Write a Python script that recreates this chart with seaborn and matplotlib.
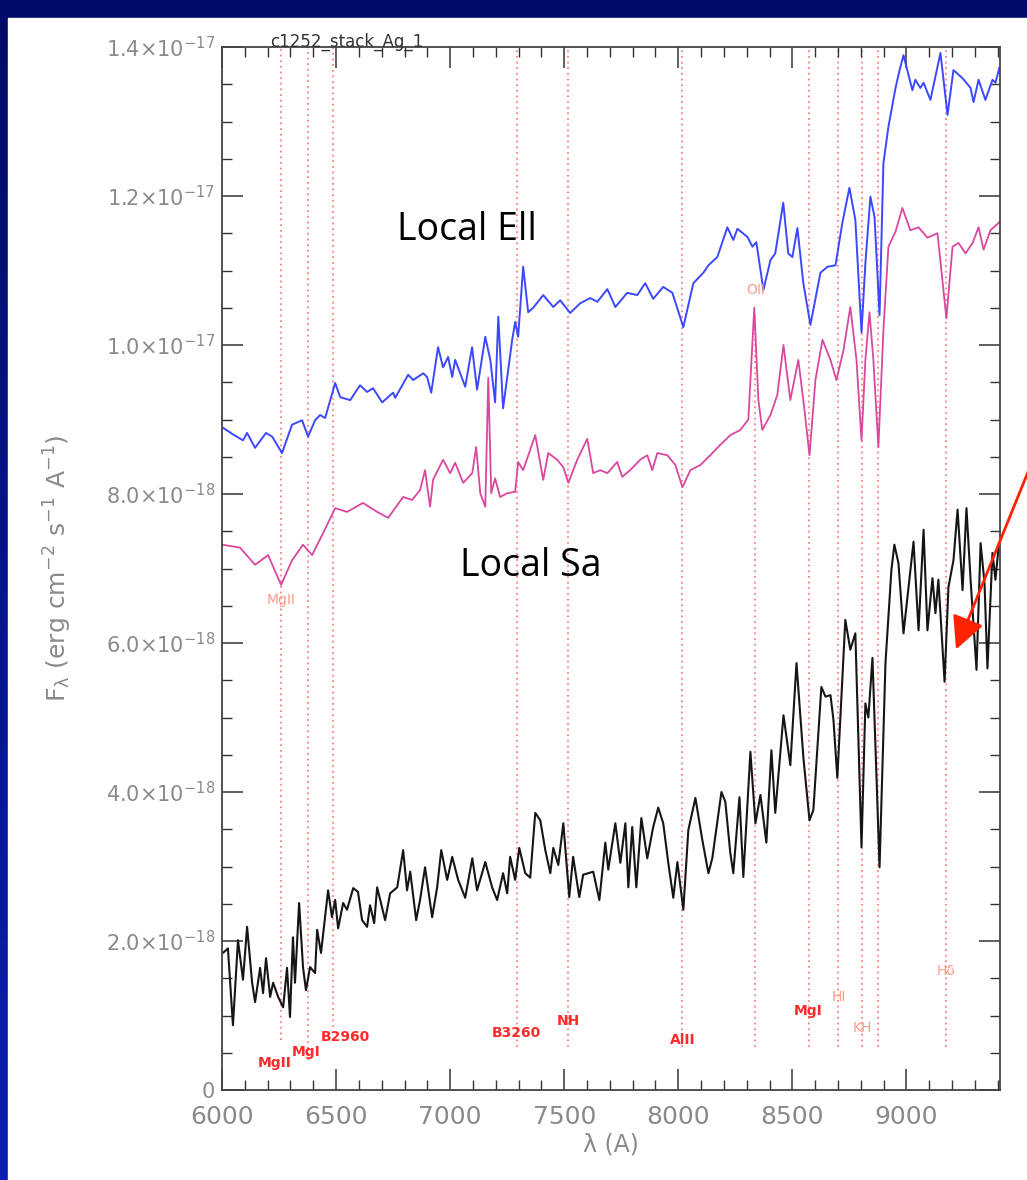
import numpy as np
import pandas as pd
import matplotlib
matplotlib.use("Agg")
import matplotlib.pyplot as plt
from matplotlib.ticker import MultipleLocator, FuncFormatter, FixedLocator
from matplotlib.patches import Rectangle
import seaborn as sns

# ---------------- data (flux in units of 1e-18 erg/cm2/s/A) ----------------
obs_wave = [6004, 6026, 6048, 6070, 6092, 6110, 6132, 6145, 6167, 6180, 6193, 6211, 6224, 6246,
            6268, 6285, 6298, 6311, 6320, 6338, 6355, 6368, 6386, 6408, 6417, 6434, 6465, 6482,
            6496, 6509, 6531, 6548, 6575, 6596, 6614, 6636, 6649, 6667, 6680, 6715, 6737, 6768,
            6794, 6811, 6825, 6851, 6868, 6890, 6921, 6943, 6961, 6987, 7009, 7035, 7066, 7097,
            7118, 7154, 7184, 7206, 7232, 7250, 7263, 7285, 7303, 7329, 7351, 7373, 7395, 7417,
            7439, 7452, 7474, 7496, 7522, 7539, 7566, 7583, 7627, 7654, 7680, 7693, 7724, 7746,
            7768, 7781, 7798, 7816, 7838, 7864, 7890, 7912, 7934, 7956, 7978, 7996, 8022, 8044,
            8075, 8105, 8132, 8149, 8189, 8206, 8228, 8241, 8268, 8285, 8316, 8338, 8360, 8386,
            8408, 8425, 8461, 8491, 8518, 8548, 8575, 8592, 8627, 8645, 8667, 8680, 8697, 8732,
            8754, 8776, 8803, 8820, 8833, 8851, 8882, 8908, 8934, 8947, 8965, 8987, 9009, 9031,
            9053, 9075, 9092, 9114, 9127, 9140, 9167, 9184, 9206, 9224, 9246, 9263, 9281, 9307,
            9325, 9342, 9355, 9377, 9390, 9404]
obs_flux = [1.84, 1.90, 0.87, 2.01, 1.48, 2.19, 1.44, 1.18, 1.64, 1.30, 1.77, 1.25, 1.44, 1.25,
            1.11, 1.64, 0.98, 2.05, 1.44, 2.51, 1.65, 1.34, 1.65, 1.57, 2.15, 1.84, 2.68, 2.32,
            2.55, 2.17, 2.51, 2.42, 2.71, 2.66, 2.28, 2.19, 2.48, 2.24, 2.72, 2.28, 2.64, 2.72,
            3.22, 2.68, 2.93, 2.28, 2.55, 2.99, 2.32, 2.72, 3.22, 2.82, 3.13, 2.82, 2.58, 3.11,
            2.68, 3.06, 2.72, 2.55, 2.91, 2.64, 3.13, 2.82, 3.25, 2.91, 2.85, 3.72, 3.62, 3.22,
            2.91, 3.25, 3.02, 3.58, 2.59, 3.13, 2.59, 2.89, 2.93, 2.55, 3.32, 2.96, 3.58, 3.05,
            3.58, 2.72, 3.53, 2.72, 3.65, 3.11, 3.53, 3.79, 3.58, 3.05, 2.58, 3.06, 2.42, 3.49,
            3.92, 3.36, 2.91, 3.11, 4.00, 3.87, 3.18, 2.91, 3.93, 2.86, 4.54, 3.58, 3.96, 3.32,
            4.56, 3.72, 5.03, 4.36, 5.73, 4.47, 3.62, 3.76, 5.41, 5.28, 5.30, 4.97, 4.19, 6.31,
            5.91, 6.13, 3.26, 5.19, 5.00, 5.80, 2.99, 5.73, 6.98, 7.32, 7.07, 6.13, 6.75, 7.36,
            6.17, 7.52, 6.17, 6.87, 6.40, 6.85, 5.48, 6.75, 7.11, 7.79, 6.71, 7.81, 6.85, 5.64,
            7.34, 6.81, 5.66, 7.21, 6.85, 7.29]

ell_wave = [6004, 6048, 6092, 6110, 6145, 6193, 6220, 6263, 6307, 6351, 6377, 6408, 6430, 6452,
            6496, 6518, 6562, 6605, 6636, 6662, 6702, 6750, 6759, 6816, 6838, 6882, 6899, 6917,
            6947, 6969, 6991, 7009, 7022, 7044, 7066, 7096, 7118, 7154, 7176, 7197, 7211, 7232,
            7272, 7285, 7298, 7320, 7342, 7364, 7408, 7452, 7482, 7526, 7570, 7614, 7645, 7689,
            7724, 7776, 7820, 7855, 7890, 7934, 7974, 8022, 8066, 8110, 8132, 8171, 8215, 8241,
            8259, 8303, 8325, 8342, 8373, 8404, 8425, 8460, 8482, 8500, 8522, 8548, 8579, 8623,
            8654, 8689, 8719, 8750, 8776, 8803, 8820, 8842, 8860, 8882, 8899, 8921, 8952, 8970,
            8987, 9026, 9039, 9061, 9075, 9105, 9149, 9180, 9206, 9246, 9281, 9294, 9316, 9346,
            9377, 9390, 9408]
ell_flux = [8.89, 8.80, 8.72, 8.82, 8.62, 8.82, 8.77, 8.55, 8.93, 8.99, 8.77, 8.99, 9.06, 9.02,
            9.49, 9.30, 9.26, 9.46, 9.37, 9.42, 9.23, 9.36, 9.29, 9.60, 9.53, 9.62, 9.57, 9.36,
            9.97, 9.70, 9.84, 9.57, 9.80, 9.62, 9.44, 9.97, 9.40, 10.11, 9.80, 9.23, 10.38, 9.15,
            10.07, 10.31, 10.11, 11.05, 10.44, 10.50, 10.67, 10.51, 10.60, 10.43, 10.56, 10.63, 10.58, 10.75,
            10.51, 10.70, 10.67, 10.83, 10.62, 10.78, 10.70, 10.24, 10.83, 10.97, 11.07, 11.18, 11.58, 11.41,
            11.56, 11.45, 11.32, 11.38, 10.74, 11.14, 11.23, 11.91, 11.23, 11.18, 11.57, 10.83, 10.27, 10.97,
            11.05, 11.07, 11.64, 12.11, 11.68, 10.17, 11.10, 11.99, 11.72, 10.40, 12.44, 12.93, 13.45, 13.69,
            13.89, 13.42, 13.56, 13.45, 13.52, 13.29, 13.92, 13.09, 13.69, 13.58, 13.45, 13.26, 13.56, 13.29,
            13.56, 13.52, 13.73]

sa_wave = [6000, 6079, 6145, 6202, 6259, 6307, 6355, 6395, 6439, 6496, 6548, 6618, 6680, 6728,
           6794, 6833, 6868, 6890, 6912, 6925, 6969, 7000, 7022, 7057, 7097, 7114, 7132, 7154,
           7167, 7180, 7197, 7219, 7250, 7285, 7298, 7320, 7373, 7408, 7430, 7469, 7496, 7518,
           7557, 7601, 7627, 7658, 7689, 7732, 7754, 7789, 7833, 7864, 7886, 7908, 7952, 7987,
           8018, 8053, 8097, 8140, 8184, 8228, 8272, 8307, 8333, 8351, 8368, 8404, 8434, 8461,
           8491, 8526, 8553, 8575, 8601, 8632, 8667, 8693, 8724, 8754, 8781, 8803, 8820, 8838,
           8855, 8877, 8899, 8921, 8952, 8982, 9017, 9053, 9092, 9136, 9175, 9202, 9228, 9259,
           9290, 9316, 9338, 9368, 9408]
sa_flux = [7.32, 7.28, 7.05, 7.18, 6.78, 7.11, 7.32, 7.18, 7.45, 7.81, 7.76, 7.88, 7.76, 7.68,
           7.96, 7.92, 8.05, 8.32, 7.83, 8.19, 8.46, 8.28, 8.42, 8.15, 8.28, 8.63, 8.01, 7.83,
           9.56, 8.01, 8.21, 7.96, 8.01, 8.03, 8.43, 8.32, 8.79, 8.19, 8.55, 8.46, 8.36, 8.15,
           8.46, 8.74, 8.28, 8.32, 8.28, 8.43, 8.23, 8.32, 8.46, 8.52, 8.32, 8.55, 8.52, 8.39,
           8.09, 8.32, 8.39, 8.52, 8.66, 8.79, 8.86, 9.00, 10.50, 9.26, 8.86, 9.06, 9.33, 10.00,
           9.26, 9.80, 9.13, 8.52, 9.53, 10.07, 9.80, 9.53, 9.93, 10.51, 9.80, 8.72, 9.80, 10.44,
           9.80, 8.63, 10.20, 11.32, 11.52, 11.84, 11.54, 11.58, 11.44, 11.50, 10.36, 11.32, 11.37, 11.23,
           11.37, 11.58, 11.28, 11.54, 11.65]

# spectral line marks: wavelength, label, label flux position, lower end of dotted line
line_wave = [6259, 6377, 6487, 7294, 7518, 8018, 8575, 8702, 8803, 8877, 9175]
line_names = ["MgII", "MgI", "B2960", "B3260", "NH", "AlII", "MgI", "HI", "KH", "", "Hδ"]
line_label_y = [0.36, 0.51, 0.71, 0.76, 0.93, 0.67, 1.06, 1.25, 0.83, 0.0, 1.60]
line_label_x = [6230, 6370, 6540, 7290, 7518, 8018, 8570, 8702, 8805, 8877, 9175]
line_bottom = [0.67, 0.40, 0.85, 0.58, 0.58, 0.58, 0.58, 0.58, 0.58, 0.58, 0.58]
line_strong = [True, True, True, True, True, True, True, False, False, False, False]

tmpl_line_wave = [6259, 8338]
tmpl_line_names = ["MgII", "OII"]
tmpl_label_y = [6.58, 10.74]

y_ticks = [0, 2e-18, 4e-18, 6e-18, 8e-18, 1.0e-17, 1.2e-17, 1.4e-17]

# ---------------- figure ----------------
sns.set_style("white")
plt.rcParams["font.family"] = ["DejaVu Sans"]
plt.rcParams["mathtext.fontset"] = "dejavusans"

W, H = 1027, 1180
fig = plt.figure(figsize=(W / 100, H / 100), dpi=100)

# navy gradient background + white panel
bg = fig.add_axes([0, 0, 1, 1], zorder=-10)
grad = np.linspace(0, 1, 256).reshape(-1, 1)
cmap = matplotlib.colors.LinearSegmentedColormap.from_list("bg", ["#000c66", "#0a1fb0"])
bg.imshow(grad, aspect="auto", cmap=cmap, extent=[0, 1, 0, 1], origin="upper")
bg.add_patch(Rectangle((8 / W, 0), 1 - 8 / W, 1 - 18 / H, color="white", zorder=2))
bg.set_xlim(0, 1)
bg.set_ylim(0, 1)
bg.axis("off")

ax = fig.add_axes([222 / W, 1 - 1090 / H, (1000 - 222) / W, (1090 - 47) / H])
ax.set_facecolor("none")

df_obs = pd.DataFrame({"wave": obs_wave, "flux": np.array(obs_flux) * 1e-18})
df_ell = pd.DataFrame({"wave": ell_wave, "flux": np.array(ell_flux) * 1e-18})
df_sa = pd.DataFrame({"wave": sa_wave, "flux": np.array(sa_flux) * 1e-18})

sns.lineplot(data=df_ell, x="wave", y="flux", ax=ax, color="#3b48ff", lw=1.4, estimator=None, sort=True)
sns.lineplot(data=df_sa, x="wave", y="flux", ax=ax, color="#d9479f", lw=1.3, estimator=None, sort=True)
sns.lineplot(data=df_obs, x="wave", y="flux", ax=ax, color="#151515", lw=1.5, estimator=None, sort=True)

ax.set_xlim(6000, 9410)
ax.set_ylim(0, 1.4e-17)

# dotted line marks
for w, b in zip(line_wave, line_bottom):
    ax.vlines(w, b * 1e-18, 1.4e-17, colors="#ff6a6a", linestyles=(0, (1.2, 2.5)), lw=1.1, zorder=0.5)
ax.vlines(8338, 0.58e-18, 10.4e-18, colors="#ff6a6a", linestyles=(0, (1.2, 2.5)), lw=1.1, zorder=0.5)

for lx, name, ly, strong in zip(line_label_x, line_names, line_label_y, line_strong):
    if not name:
        continue
    ax.text(lx, ly * 1e-18, name, color="#ff2a2a" if strong else "#ff9a8a",
            fontsize=10, ha="center", va="center",
            fontweight="bold" if strong else "normal", zorder=3)
for lx, name, ly in zip(tmpl_line_wave, tmpl_line_names, tmpl_label_y):
    ax.text(lx, ly * 1e-18, name, color="#ff9a8a", fontsize=10, ha="center", va="center", zorder=3)

# ticks
ax.xaxis.set_major_locator(MultipleLocator(500))
ax.xaxis.set_minor_locator(MultipleLocator(100))
ax.yaxis.set_major_locator(FixedLocator(y_ticks))
ax.yaxis.set_minor_locator(MultipleLocator(0.5e-18))


def yfmt(v, pos):
    if v <= 1e-25:
        return "0"
    e = int(np.floor(np.log10(v) + 1e-9))
    m = v / 10 ** e
    return r"$\mathregular{%.1f{\times}10^{%d}}$" % (m, e)


ax.yaxis.set_major_formatter(FuncFormatter(yfmt))
ax.tick_params(axis="both", which="major", direction="in", length=15, width=1.1,
               color="#333333", top=True, right=True, bottom=True, left=True,
               labelcolor="#8a8a8a", labelsize=15)
ax.tick_params(axis="both", which="minor", direction="in", length=7, width=1.0,
               color="#333333", top=True, right=True, bottom=True, left=True)
ax.tick_params(axis="x", which="major", pad=11, labelsize=18,
               labelfontfamily="Liberation Sans Narrow")
ax.tick_params(axis="y", which="major", pad=5)
for s in ax.spines.values():
    s.set_color("#444444")
    s.set_linewidth(1.3)
    s.set_visible(True)

ax.set_xlabel("λ (A)", color="#8a8a8a", fontsize=17, labelpad=2)
ax.set_ylabel(r"$\mathregular{F_\lambda\ (erg\ cm^{-2}\ s^{-1}\ A^{-1})}$", color="#8a8a8a", fontsize=18)
ax.yaxis.set_label_coords(-0.19, 0.5)

ax.text(0.062, 1.0, "c1252_stack_Ag_1", transform=ax.transAxes, fontsize=12,
        color="#333333", ha="left", va="baseline",
        family=["Liberation Sans Narrow", "DejaVu Sans"])

# annotations
ax.text(7075, 11.55e-18, "Local Ell", fontsize=27, color="black", ha="center", va="center",
        family="Open Sans")
ax.text(7355, 7.03e-18, "Local Sa", fontsize=27, color="black", ha="center", va="center",
        family="Open Sans")

fig.patches.append(matplotlib.patches.FancyArrowPatch(
    posA=(1045 / W, 1 - 430 / H), posB=(955 / W, 1 - 652 / H),
    transform=fig.transFigure, arrowstyle="-|>", mutation_scale=50,
    color="#ff2200", lw=2.0, clip_on=False))

fig.savefig("out.png", dpi=100)
